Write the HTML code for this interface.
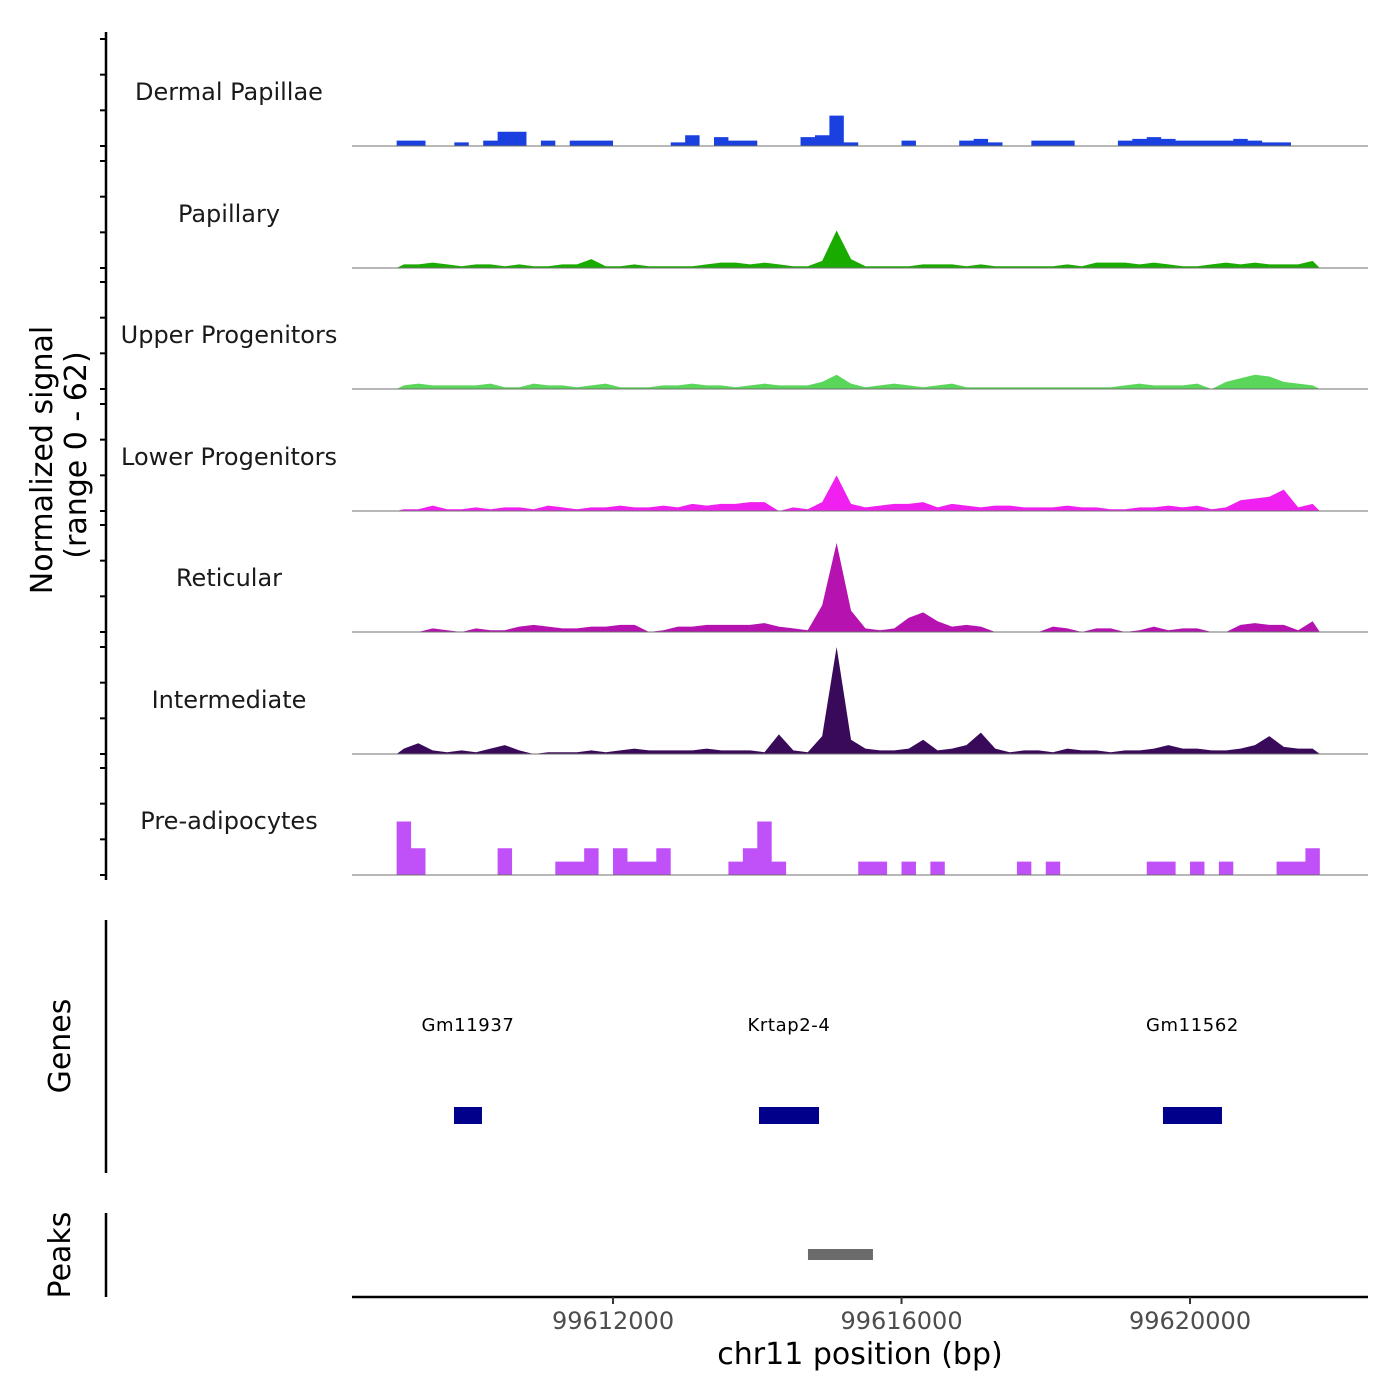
<!DOCTYPE html>
<html><head><meta charset="utf-8"><style>
html,body{margin:0;padding:0;background:#fff;}
svg{display:block;font-family:"DejaVu Sans","Liberation Sans",sans-serif;}
</style></head><body>
<svg id="chart" width="1400" height="1400" viewBox="0 0 1400 1400" xmlns="http://www.w3.org/2000/svg">
<g id="tracks"></g>
<g id="axes"></g>
</svg>
<script>
const trackNames = ["Dermal Papillae","Papillary","Upper Progenitors","Lower Progenitors","Reticular","Intermediate","Pre-adipocytes"];
const trackColors = ["#1a40e0","#1aab00","#5ad65a","#f020f0","#b512b0","#3a0a5a","#c050f8"];
const binStart = 99609000;
const binSize = 200;
const dermal = [3,3,0,0,2,0,3,8,8,0,3,0,3,3,3,0,0,0,0,2,6,0,5,3,3,0,0,0,5,6,17,2,0,0,0,3,0,0,0,3,4,2,0,0,3,3,3,0,0,0,3,4,5,4,3,3,3,3,4,3,2,2,0,0];
const papillary = [2,2,3,2,1,2,2,1,2,1,1,2,2,5,1,1,2,1,1,1,1,2,3,3,2,3,2,1,1,4,21,5,1,1,1,1,2,2,2,1,2,1,1,1,1,1,2,1,3,3,3,2,3,2,1,1,2,3,2,3,2,2,2,4];
const upper = [2,3,2,2,2,2,3,1,1,3,2,2,1,2,3,1,1,1,2,2,3,2,2,1,2,3,2,2,2,4,8,3,1,2,3,2,1,2,3,1,1,1,1,1,1,1,1,1,1,1,2,3,2,2,2,3,0,4,6,8,7,4,3,2];
const lower = [1,1,3,1,1,2,1,2,2,1,3,2,1,2,2,3,2,2,3,2,4,3,4,4,5,5,0,2,1,5,20,4,2,3,4,4,5,2,4,3,2,3,3,2,2,2,3,2,2,1,1,2,2,3,2,3,1,2,6,7,8,12,2,4];
const reticular = [0,0,2,1,0,2,1,1,3,4,3,2,2,3,3,4,4,0,1,3,3,4,4,4,4,5,3,2,1,15,50,12,2,1,2,8,11,6,3,4,3,0,0,0,0,3,2,0,2,2,0,1,3,1,2,2,0,0,4,5,4,4,1,6];
const intermediate = [3,6,2,1,2,1,3,5,2,0,1,1,1,2,1,2,3,2,2,2,2,3,2,2,2,1,11,2,1,10,60,8,3,2,2,3,8,2,3,5,12,3,1,2,2,1,3,2,2,1,2,2,3,5,3,3,2,2,3,5,10,4,3,3];
const preadipo = [30,15,0,0,0,0,0,15,0,0,0,7.5,7.5,15,0,15,7.5,7.5,15,0,0,0,0,7.5,15,30,7.5,0,0,0,0,0,7.5,7.5,0,7.5,0,7.5,0,0,0,0,0,7.5,0,7.5,0,0,0,0,0,0,7.5,7.5,0,7.5,0,7.5,0,0,0,7.5,7.5,15];
const stepStyle = [true,false,false,false,false,false,true];
const geneNames = ["Gm11937","Krtap2-4","Gm11562"];
const geneStarts = [99609795,99614024,99619625];
const geneEnds = [99610183,99614856,99620443];
const peakStarts = [99614703];
const peakEnds = [99615604];
const xTicks = [99612000,99616000,99620000];
const yTickValues = [0,20,40,60];
const series = [dermal,papillary,upper,lower,reticular,intermediate,preadipo];

const NS = "http://www.w3.org/2000/svg";
const X0 = 352, X1 = 1368, BP0 = 99608381, PXPERBP = 288.5/4000;
function xScale(bp){ return X0 + (bp - BP0) * PXPERBP; }
const baselines = [146,268,389,511,632,754,875];
const PXPERUNIT = 107/60;
function yScale(v, t){ return baselines[t] - v * PXPERUNIT; }
function mk(tag, attrs, parent){ const e = document.createElementNS(NS, tag); for (const k in attrs) e.setAttribute(k, attrs[k]); parent.appendChild(e); return e; }

const tracks = document.getElementById('tracks');
const axes = document.getElementById('axes');

series.forEach((vals, t) => {
  const g = mk('g', {}, tracks);
  
  
  let d = 'M' + xScale(binStart) + ' ' + baselines[t];
  vals.forEach((v, i) => {
    const a = xScale(binStart + i * binSize), b = xScale(binStart + (i + 1) * binSize);
    const y = yScale(v, t);
    if (stepStyle[t]) { d += ' L' + a + ' ' + y + ' L' + b + ' ' + y; }
    else { d += ' L' + ((a + b) / 2) + ' ' + y; }
  });
  d += ' L' + xScale(binStart + vals.length * binSize) + ' ' + baselines[t] + ' Z';
  const p = mk('path', {d: d, fill: trackColors[t], stroke: 'none'}, g);
  
  
  const bl = mk('line', {x1: X0, x2: X1, y1: baselines[t], y2: baselines[t], stroke: '#707070', 'stroke-width': 1}, g);
  
  
  const lab = mk('text', {x: 229, y: baselines[t] - 46, 'text-anchor': 'middle', 'font-size': 24, fill: '#1a1a1a'}, g);
  lab.textContent = trackNames[t];
  
  
  yTickValues.forEach(v => {
    const tk = mk('line', {x1: 100, x2: 106, y1: yScale(v, t), y2: yScale(v, t), stroke: '#000', 'stroke-width': 2}, axes);
    
    
  });
});

[[32, 880], [920, 1173], [1213, 1297]].forEach(([a, b]) => {
  const l = mk('line', {x1: 106, x2: 106, y1: a, y2: b, stroke: '#000', 'stroke-width': 2.5}, axes);
  
  
});
const yt = mk('text', {transform: 'translate(52,460) rotate(-90)', 'text-anchor': 'middle', 'font-size': 30, fill: '#000'}, axes);
yt.textContent = 'Normalized signal';


const yt2 = mk('text', {transform: 'translate(86,455) rotate(-90)', 'text-anchor': 'middle', 'font-size': 30, fill: '#000'}, axes);
yt2.textContent = '(range 0 - 62)';


const gt = mk('text', {transform: 'translate(70,1046) rotate(-90)', 'text-anchor': 'middle', 'font-size': 30, fill: '#000'}, axes);
gt.textContent = 'Genes';


const pt = mk('text', {transform: 'translate(70,1255) rotate(-90)', 'text-anchor': 'middle', 'font-size': 30, fill: '#000'}, axes);
pt.textContent = 'Peaks';



geneNames.forEach((n, i) => {
  const a = xScale(geneStarts[i]), b = xScale(geneEnds[i]);
  const r = mk('rect', {x: a, y: 1107, width: b - a, height: 17, fill: '#00008b'}, axes);
  
  
  const t = mk('text', {x: (a + b) / 2, y: 1031, 'text-anchor': 'middle', 'font-size': 18, fill: '#000', 'letter-spacing': 0.6}, axes);
  t.textContent = n;
  
  
});
peakStarts.forEach((s, i) => {
  const a = xScale(s), b = xScale(peakEnds[i]);
  const r = mk('rect', {x: a, y: 1249, width: b - a, height: 11, fill: '#6b6b6b'}, axes);
  
  
});
const xl = mk('line', {x1: X0, x2: X1, y1: 1297, y2: 1297, stroke: '#000', 'stroke-width': 2.5}, axes);


xTicks.forEach(v => {
  const x = xScale(v);
  const tk = mk('line', {x1: x, x2: x, y1: 1297, y2: 1304, stroke: '#333', 'stroke-width': 2}, axes);
  
  
  const t = mk('text', {x: x, y: 1329, 'text-anchor': 'middle', 'font-size': 24, fill: '#4d4d4d'}, axes);
  t.textContent = String(v);
  
  
});
const xt = mk('text', {x: 860, y: 1364, 'text-anchor': 'middle', 'font-size': 30, fill: '#000'}, axes);
xt.textContent = 'chr11 position (bp)';


</script>
</body></html>
